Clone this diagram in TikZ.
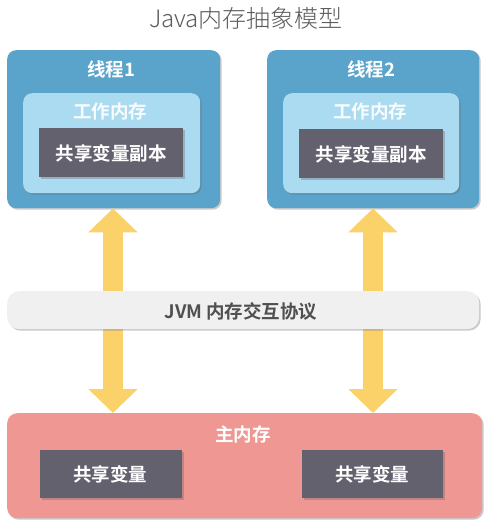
\documentclass[tikz,border=0pt]{standalone}
\usepackage{fontspec}
\setmainfont{Noto Sans CJK SC}
\newfontfamily\cjkb{Noto Sans CJK SC Bold}
\newfontfamily\cjkl{Noto Sans CJK SC Light}
\usetikzlibrary{arrows.meta,shadows}
\definecolor{thblue}{RGB}{90,163,203}
\definecolor{wmblue}{RGB}{170,219,240}
\definecolor{darkbox}{RGB}{99,97,110}
\definecolor{barg}{RGB}{240,240,240}
\definecolor{mainred}{RGB}{239,151,146}
\definecolor{arrowy}{RGB}{251,210,106}
\definecolor{titleg}{RGB}{90,90,90}
\definecolor{jvmtext}{RGB}{80,80,80}
\tikzset{
  x=1pt, y=-1pt,
  shd/.style={drop shadow={shadow xshift=1.5pt, shadow yshift=-1.5pt, opacity=0.35, fill=black!60}},
  box/.style={shd, minimum width=#1, inner sep=0pt, anchor=north west},
  lbl/.style={text=white, font=\cjkb\fontsize{18.5}{20}\selectfont, inner sep=0pt},
  dbox/.style={box=#1, fill=darkbox, rounded corners=0pt},
  yarrow/.style={draw=arrowy, line width=20pt, {Triangle[length=24pt,width=48pt]}-{Triangle[length=24pt,width=48pt]}},
}
\begin{document}
\begin{tikzpicture}
\useasboundingbox (0,0) rectangle (496,526);
% title
\node[text=titleg, font=\cjkl\fontsize{24}{26}\selectfont, inner sep=0pt] (title) at (246,18) {Java内存抽象模型};
% thread 1
\node[box=213pt, minimum height=158pt, fill=thblue, rounded corners=9pt] (t1) at (7,50) {};
\node[lbl] (t1l) at (111,69) {线程1};
\node[box=177pt, minimum height=100pt, fill=wmblue, rounded corners=9pt] (w1) at (23,93) {};
\node[lbl, text=white!92!wmblue] (w1l) at (110,111) {工作内存};
\node[dbox=144pt, minimum height=49pt] (c1) at (39,128) {};
\node[lbl] (c1l) at (111,153) {共享变量副本};
% thread 2
\node[box=212pt, minimum height=158pt, fill=thblue, rounded corners=9pt] (t2) at (267,50) {};
\node[lbl] (t2l) at (371,69) {线程2};
\node[box=176pt, minimum height=100pt, fill=wmblue, rounded corners=9pt] (w2) at (283,93) {};
\node[lbl, text=white!92!wmblue] (w2l) at (370,111) {工作内存};
\node[dbox=144pt, minimum height=49pt] (c2) at (299,129) {};
\node[lbl] (c2l) at (371,154) {共享变量副本};
% main memory
\node[box=475pt, minimum height=105pt, fill=mainred, rounded corners=10pt] (main) at (7,413) {};
\node[lbl] (mainl) at (243,434) {主内存};
\node[dbox=142pt, minimum height=48pt] (s1) at (40,450) {};
\node[lbl] (s1l) at (110,474) {共享变量};
\node[dbox=141pt, minimum height=48pt] (s2) at (302,450) {};
\node[lbl] (s2l) at (372,474) {共享变量};
% arrows
\coordinate (a1t) at (113,208);
\coordinate (a1b) at (113,408);
\coordinate (a2t) at (373,208);
\coordinate (a2b) at (373,408);
\draw[yarrow] (t1.south -| a1t) -- (main.north -| a1b);
\draw[yarrow] (t2.south -| a2t) -- (main.north -| a2b);
% JVM bar
\node[box=472pt, minimum height=38pt, fill=barg, rounded corners=12pt] (jvm) at (7,291) {};
\node[text=jvmtext, font=\cjkb\fontsize{18.5}{20}\selectfont, inner sep=0pt] (jvml) at (241,311) {JVM 内存交互协议};
\end{tikzpicture}
\end{document}
